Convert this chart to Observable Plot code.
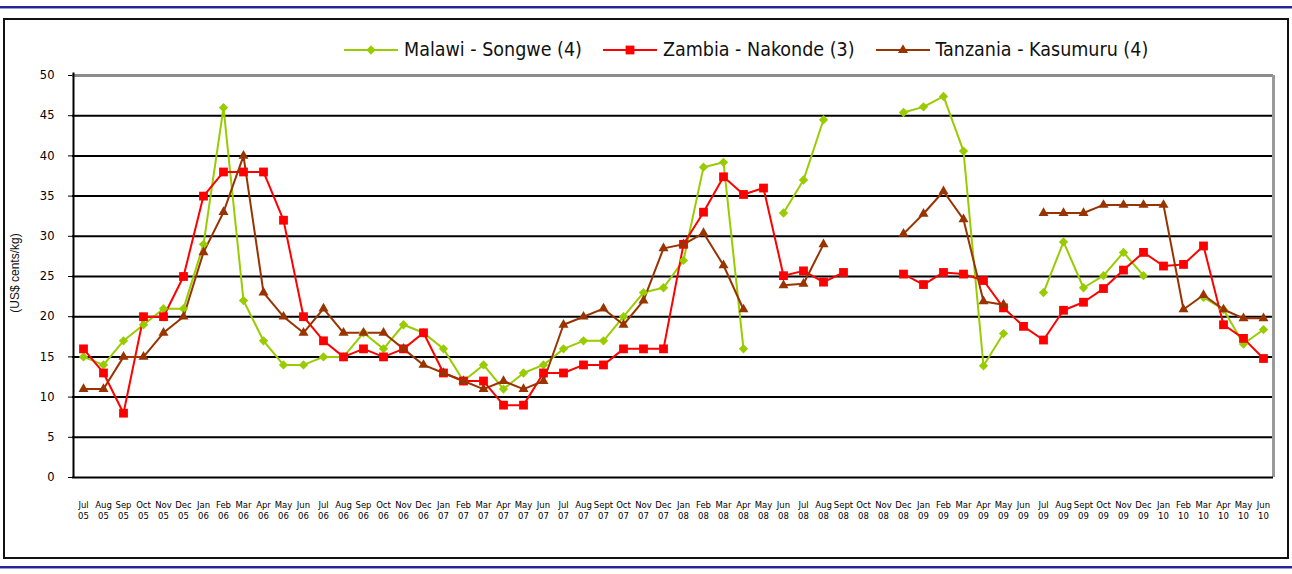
<!DOCTYPE html>
<html>
<head>
<meta charset="utf-8">
<script src="https://cdn.jsdelivr.net/npm/d3@7"></script>
<script src="https://cdn.jsdelivr.net/npm/@observablehq/plot@0.6"></script>
<style>
  html, body { margin: 0; padding: 0; background: #fff; }
  #page { position: relative; width: 1292px; height: 574px; overflow: hidden; font-family: "Liberation Sans", "DejaVu Sans", sans-serif; }
  .blue { position: absolute; left: 0; width: 1292px; height: 2px; background: #23239a; border-bottom: 1px solid #9a9ad8; }
  #frame { position: absolute; left: 3px; top: 18px; width: 1282px; height: 537px; border: 2px solid #111; box-sizing: content-box; }
  #legend { position: absolute; top: 38px; left: 343px; display: flex; gap: 20px; font-size: 19.5px; font-stretch: condensed; font-family: "DejaVu Sans Condensed", "Liberation Sans Narrow", "Liberation Sans", sans-serif; color: #111; }
  .item { display: flex; align-items: center; gap: 5px; white-space: nowrap; }
  #ylab { position: absolute; left: 15px; top: 273px; transform: translate(-50%, -50%) rotate(-90deg); font-size: 12px; white-space: nowrap; color: #111; }
  #chart { position: absolute; left: 0; top: 65px; }
</style>
</head>
<body>
<div id="page">
  <div class="blue" style="top:6px"></div>
  <div id="frame"></div>
  <div class="blue" style="top:566px"></div>
  <div id="legend"></div>
  <div id="ylab">(US$ cents/kg)</div>
  <div id="chart"></div>
</div>
<script>
const months = [
  "Jul 05","Aug 05","Sep 05","Oct 05","Nov 05","Dec 05",
  "Jan 06","Feb 06","Mar 06","Apr 06","May 06","Jun 06","Jul 06","Aug 06","Sep 06","Oct 06","Nov 06","Dec 06",
  "Jan 07","Feb 07","Mar 07","Apr 07","May 07","Jun 07","Jul 07","Aug 07","Sept 07","Oct 07","Nov 07","Dec 07",
  "Jan 08","Feb 08","Mar 08","Apr 08","May 08","Jun 08","Jul 08","Aug 08","Sept 08","Oct 08","Nov 08","Dec 08",
  "Jan 09","Feb 09","Mar 09","Apr 09","May 09","Jun 09","Jul 09","Aug 09","Sept 09","Oct 09","Nov 09","Dec 09",
  "Jan 10","Feb 10","Mar 10","Apr 10","May 10","Jun 10"
];

const malawi = [
  15,14,17,19,21,21,
  29,46,22,17,14,14,15,15,18,16,19,18,
  16,12,14,11,13,14,16,17,17,20,23,23.6,
  27,38.6,39.2,16,null,32.9,37,44.5,null,null,null,45.4,
  46.1,47.4,40.6,13.9,17.9,null,23,29.3,23.6,25.1,28,25.1,
  null,null,22.4,20.9,16.6,18.4
];

const zambia = [
  16,13,8,20,20,25,
  35,38,38,38,32,20,17,15,16,15,16,18,
  13,12,12,9,9,13,13,14,14,16,16,16,
  29,33,37.4,35.2,36,25.1,25.7,24.3,25.5,null,null,25.3,
  24,25.5,25.3,24.5,21.1,18.8,17.1,20.8,21.8,23.5,25.8,28,
  26.3,26.5,28.8,19,17.3,14.8
];

const tanzania = [
  11,11,15,15,18,20,
  28,33,40,23,20,18,21,18,18,18,16,14,
  13,12,11,12,11,12,19,20,21,19,22,28.5,
  29,30.4,26.4,20.9,null,23.9,24.1,29,null,null,null,30.3,
  32.8,35.6,32.1,21.9,21.5,null,32.9,32.9,32.9,33.9,33.9,33.9,
  33.9,20.9,22.7,20.9,19.8,19.8
];

const seriesNames = ["Malawi - Songwe (4)", "Zambia - Nakonde (3)", "Tanzania - Kasumuru (4)"];
const seriesColors = ["#99cc00", "#ff0000", "#993300"];
const seriesSymbols = ["diamond2", "square2", "triangle2"];
const seriesR = [4.2, 5.6, 4.8];
const yTicks = [0,5,10,15,20,25,30,35,40,45,50];

const allValues = [malawi, zambia, tanzania];
const rows = [];
allValues.forEach((vals, s) => {
  vals.forEach((v, i) => rows.push({series: seriesNames[s], month: months[i], value: v}));
});

const marks = [
  Plot.ruleY(yTicks.filter(t => t > 0 && t < 50), {stroke: "#000", strokeWidth: 2}),
  Plot.ruleY([50], {stroke: "#8c8c8c", strokeWidth: 3}),
  Plot.ruleX([months[months.length - 1]], {stroke: "#9a9a9a", strokeWidth: 3, dx: 10, y1: 0, y2: 50}),
  Plot.ruleY([0], {stroke: "#000", strokeWidth: 2}),
  Plot.axisY({ticks: yTicks, tickSize: 4, tickPadding: 14, fontSize: 11.5, label: null, tickFormat: d => String(d)}),
  Plot.axisX({tickSize: 0, tickPadding: 22, fontSize: 8.5, lineHeight: 1.35, label: null, tickFormat: d => d.replace(" ", "\n")})
];
seriesNames.forEach((name, s) => {
  const data = rows.filter(r => r.series === name);
  marks.push(Plot.line(data, {x: "month", y: "value", stroke: seriesColors[s], strokeWidth: 2}));
});
seriesNames.forEach((name, s) => {
  const data = rows.filter(r => r.series === name && r.value != null);
  marks.push(Plot.dot(data, {x: "month", y: "value", symbol: () => seriesSymbols[s], fill: seriesColors[s], stroke: "none", r: seriesR[s]}));
});
marks.push(Plot.ruleX([months[0]], {stroke: "#000", strokeWidth: 2, dx: -10, y1: 0, y2: 50.3}));

const chart = Plot.plot({
  width: 1292,
  height: 472,
  marginLeft: 72,
  marginRight: 19,
  marginTop: 10,
  marginBottom: 60,
  style: {fontFamily: "'DejaVu Sans', sans-serif", color: "#000", background: "transparent"},
  x: {type: "point", domain: months, padding: 0.5},
  y: {domain: [0, 50]},
  symbol: {type: "identity"},
  marks
});
document.getElementById("chart").appendChild(chart);

// legend
const legend = document.getElementById("legend");
seriesNames.forEach((name, s) => {
  const item = document.createElement("div");
  item.className = "item";
  const sw = d3.create("svg").attr("width", 56).attr("height", 14);
  sw.append("line").attr("x1", 1).attr("x2", 55).attr("y1", 7).attr("y2", 7).attr("stroke", seriesColors[s]).attr("stroke-width", 2);
  const sym = {diamond2: d3.symbolDiamond2, square2: d3.symbolSquare2, triangle2: d3.symbolTriangle2}[seriesSymbols[s]];
  sw.append("path").attr("transform", "translate(28,7)").attr("d", d3.symbol(sym, Math.PI * seriesR[s] * seriesR[s])()).attr("fill", seriesColors[s]);
  item.appendChild(sw.node());
  const t = document.createElement("span");
  t.textContent = name;
  item.appendChild(t);
  legend.appendChild(item);
});
</script>
</body>
</html>
